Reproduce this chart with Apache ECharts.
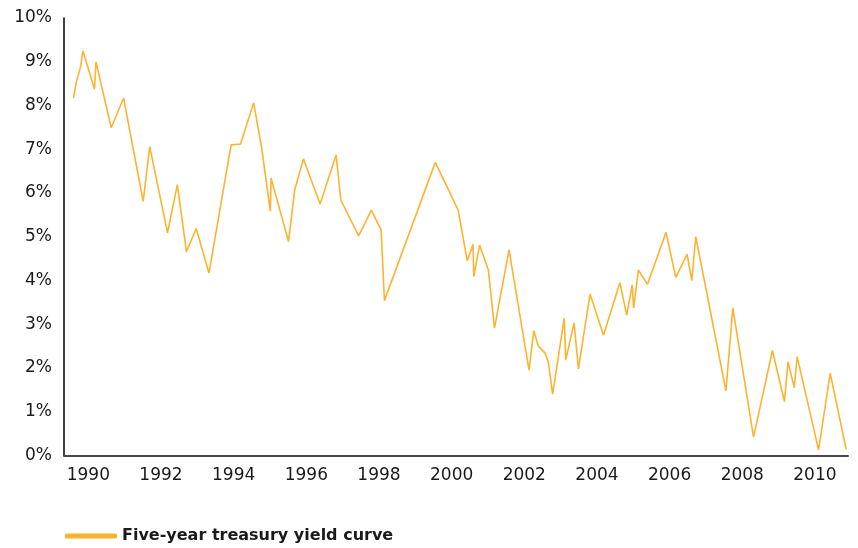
<!DOCTYPE html>
<html>
<head>
<meta charset="utf-8">
<title>Five-year treasury yield curve</title>
<script src="https://cdn.jsdelivr.net/npm/echarts@6/dist/echarts.min.js"></script>
<style>
  html, body { margin: 0; padding: 0; background: #fff; }
  #chart { width: 858px; height: 548px; }
</style>
</head>
<body>
<div id="chart"></div>
<script>
// dates as decimal years, yields in percent
const years = [
  1989.59, 1989.67, 1989.79, 1989.85, 1990.17, 1990.21, 1990.63, 1990.97,
  1991.51, 1991.69, 1992.18, 1992.45, 1992.70, 1992.97, 1993.32, 1993.93,
  1994.19, 1994.55, 1994.77, 1995.01, 1995.03, 1995.51, 1995.68, 1995.92,
  1996.38, 1996.82, 1996.95, 1997.44, 1997.79, 1998.06, 1998.15, 1999.55,
  2000.18, 2000.43, 2000.59, 2000.61, 2000.77, 2001.01, 2001.18, 2001.58,
  2002.13, 2002.26, 2002.39, 2002.57, 2002.66, 2002.78, 2003.10, 2003.14,
  2003.37, 2003.49, 2003.81, 2004.18, 2004.63, 2004.82, 2004.97, 2005.01,
  2005.14, 2005.39, 2005.90, 2006.17, 2006.48, 2006.61, 2006.72, 2007.55,
  2007.74, 2008.31, 2008.83, 2009.16, 2009.26, 2009.43, 2009.51, 2010.10,
  2010.42, 2010.86
]
const yields = [
  8.17, 8.54, 8.90, 9.25, 8.37, 9.00, 7.49, 8.17,
  5.81, 7.06, 5.09, 6.19, 4.66, 5.19, 4.17, 7.10,
  7.12, 8.06, 7.03, 5.58, 6.34, 4.89, 6.07, 6.78,
  5.75, 6.87, 5.84, 5.02, 5.61, 5.15, 3.54, 6.70,
  5.61, 4.45, 4.83, 4.09, 4.81, 4.24, 2.91, 4.70,
  1.95, 2.85, 2.50, 2.34, 2.14, 1.40, 3.14, 2.18,
  3.03, 1.98, 3.69, 2.75, 3.95, 3.21, 3.90, 3.37,
  4.24, 3.91, 5.10, 4.07, 4.60, 4.00, 5.00, 1.48,
  3.37, 0.42, 2.40, 1.23, 2.14, 1.55, 2.26, 0.13,
  1.88, 0.14
]
const yearTicks = [1990, 1992, 1994, 1996, 1998, 2000, 2002, 2004, 2006, 2008, 2010]
const seriesName = 'Five-year treasury yield curve'

const chart = echarts.init(document.getElementById('chart'))

const option = {
  animation: false,
  textStyle: { fontFamily: 'DejaVu Sans, sans-serif' },
  grid: { left: 64, right: 10, top: 18, bottom: 92.5, containLabel: false },
  legend: {
    left: 60,
    top: 523,
    icon: 'roundRect',
    itemWidth: 52,
    itemHeight: 5,
    itemGap: 8,
    textStyle: { fontSize: 16, fontWeight: 'bold', color: '#1a1a1a', fontFamily: 'DejaVu Sans, sans-serif' },
    data: [seriesName]
  },
  xAxis: {
    type: 'value',
    min: 1989.33,
    max: 2010.91,
    axisLine: { show: true, lineStyle: { color: '#4a4a4a', width: 2 } },
    axisTick: { show: false },
    splitLine: { show: false },
    axisLabel: {
      customValues: yearTicks,
      margin: 12,
      fontSize: 17,
      color: '#1a1a1a',
      formatter: (v) => String(v)
    }
  },
  yAxis: {
    type: 'value',
    min: 0,
    max: 10,
    interval: 1,
    axisLine: { show: true, lineStyle: { color: '#000', width: 1.5 } },
    axisTick: { show: false },
    splitLine: { show: false },
    axisLabel: {
      margin: 12,
      fontSize: 17,
      color: '#1a1a1a',
      formatter: '{value}%'
    }
  },
  series: [{
    name: seriesName,
    type: 'line',
    data: years.map((y, i) => [y, yields[i]]),
    showSymbol: false,
    lineStyle: { color: '#FDB32F', width: 1.6 },
    itemStyle: { color: '#FDB32F' }
  }]
}

chart.setOption(option)
</script>
</body>
</html>
